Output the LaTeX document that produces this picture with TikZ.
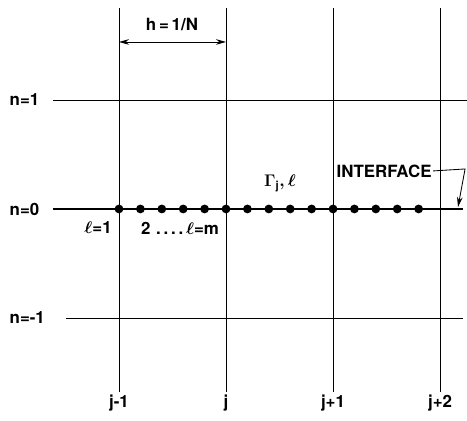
\documentclass[tikz,border=0pt]{standalone}
\usepackage{fontspec}
\setmainfont{TeX Gyre Heros}
\usetikzlibrary{arrows.meta}

\begin{document}
\begin{tikzpicture}[
    x=2.675cm, y=2.725cm,
    % Define styles for grid lines and interface
    grid_line/.style={draw=black, line width=0.6pt},
    iface_line/.style={draw=black, line width=2pt},
    % Define style for the interface points
    iface_pt/.style={circle, fill=black, inner sep=0pt, minimum size=2.2mm},
    % Define label style
    lbl/.style={font=\fontsize{12}{14}\selectfont\bfseries\boldmath, inner sep=1pt}
]

    % --- Configuration ---
    \def\gridTop{1.844}      % Upper end of the j lines
    \def\gridBot{-1.679}     % Lower end of the j lines
    \def\pointsPerCell{5}    % Interface points per cell

    % --- Frame ---
    \useasboundingbox (-1.112,-1.936) rectangle (3.252,1.917);

    % ================= VERTICAL LINES =================
    \foreach \lab [count=\i from 0] in {j-1, j, j+1, j+2} {
        \coordinate (V\i_t) at (\i, \gridTop);
        \coordinate (V\i_b) at (\i, \gridBot);
        \draw[grid_line] (V\i_t) -- (V\i_b);
        \node[lbl] (J\i) at (\i, -1.78) {\lab};
    }

    % ================= HORIZONTAL LINES =================
    \coordinate (H1_l) at (-0.617, 1);
    \coordinate (H1_r) at (3.252, 1);
    \coordinate (Hm1_l) at (-0.495, -1);
    \coordinate (Hm1_r) at (3.215, -1);
    \draw[grid_line] (H1_l) -- (H1_r);
    \draw[grid_line] (Hm1_l) -- (Hm1_r);

    \node[lbl, anchor=west] (N1) at (-1.037, 1) {n=1};
    \node[lbl, anchor=west] (N0) at (-1.037, 0) {n=0};
    \node[lbl, anchor=west] (Nm1) at (-1.037, -1) {n=-1};

    % ================= INTERFACE n=0 =================
    \coordinate (H0_l) at (-0.617, 0);
    \coordinate (H0_r) at (3.215, 0);
    \draw[iface_line] (H0_l) -- (H0_r);

    \foreach \k in {0,...,14} {
        \node[iface_pt] (P\k) at ({\k/\pointsPerCell}, 0) {};
    }

    % --- Point labels ---
    \node[lbl] (L1) at (-0.196, -0.174) {$\ell$=1};
    \node[lbl] (Lm) at (0.57, -0.174) {2\,\,.\,.\,.\,.\,$\ell$=m};
    \node[lbl] (Gam) at (1.505, 0.235) {$\Gamma_{\mathrm{j}},\ell$};

    % --- Interface pointer ---
    \node[lbl] (Iface) at (2.477, 0.349) {INTERFACE};
    \coordinate (bend) at (3.234, 0.367);
    \coordinate (tip) at (3.168, 0.018);
    \draw[grid_line, -{Stealth[length=2.5mm, width=1.4mm]}]
        (Iface.east) -- (bend) -- (tip);

    % ================= CELL WIDTH =================
    \coordinate (Wl) at (0, 1.532);
    \coordinate (Wr) at (1, 1.532);
    \draw[grid_line, {Stealth[length=2.5mm, width=1.4mm]}-{Stealth[length=2.5mm, width=1.4mm]}]
        (Wl) -- (Wr);
    \node[lbl] (Hw) at (0.495, 1.688) {h\,=\,1/N};

\end{tikzpicture}
\end{document}
